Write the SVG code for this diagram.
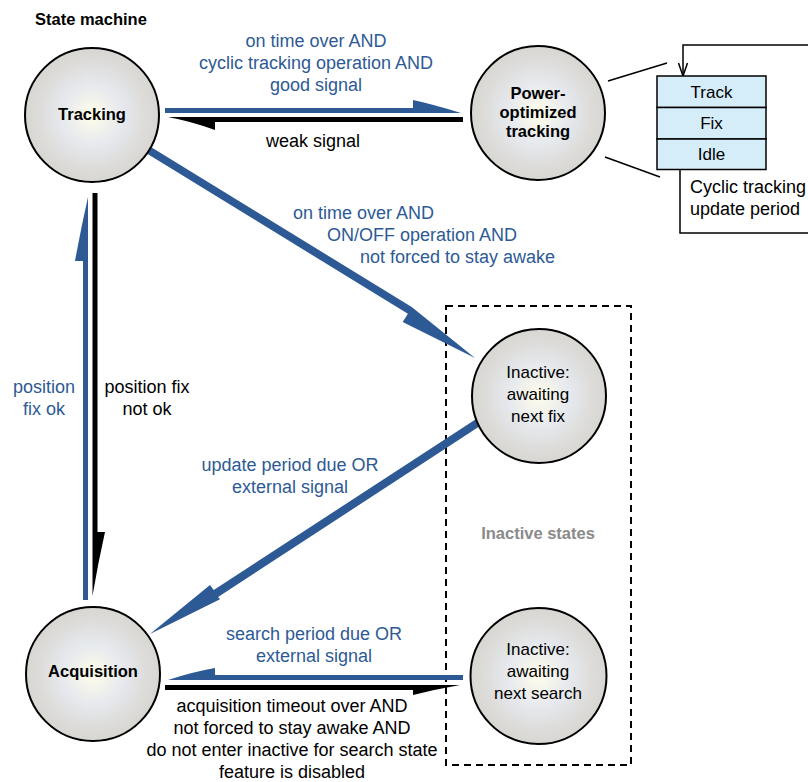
<svg xmlns="http://www.w3.org/2000/svg" width="808" height="782" viewBox="0 0 808 782">
<defs>
<radialGradient id="g" cx="50%" cy="50%" r="50%">
<stop offset="0" stop-color="#fffdea"/>
<stop offset="0.45" stop-color="#e6e9ee"/>
<stop offset="0.8" stop-color="#dddcda"/>
<stop offset="1" stop-color="#d8d6d1"/>
</radialGradient>
<style>
.n{fill:url(#g);stroke:#000;stroke-width:2}
.t{font-family:"Liberation Sans",Arial,sans-serif;font-size:18px;text-anchor:middle}
.b{font-family:"Liberation Sans",Arial,sans-serif;font-size:16.5px;font-weight:bold;text-anchor:middle}
.r{font-family:"Liberation Sans",Arial,sans-serif;font-size:17px;text-anchor:middle}
.bl{fill:#2d5a95}
.k{fill:#000}
.ln{fill:none;stroke:#000;stroke-width:1.5}
.cell{fill:#d5edf8;stroke:#000;stroke-width:1.5}
</style>
</defs>
<rect width="808" height="782" fill="#fff"/>
<text x="35" y="25" class="b" style="text-anchor:start">State machine</text>
<rect x="446" y="306" width="185" height="459" fill="none" stroke="#000" stroke-width="2" stroke-dasharray="7 5"/>
<text x="538" y="539" class="b" fill="#8a8a8a">Inactive states</text>
<g id="connectors">
<path class="bl" d="M165,108 H413 V100 Q432,104 461,113 H165 Z"/>
<path class="k" d="M463,117 H168 Q190,121 215,130 V122 H463 Z"/>
<path class="bl" d="M146,144 L411.7,307 L475,358 L402.7,322 L407.9,313.8 L146,153 Z"/>
<path class="bl" d="M480,416.5 L213.75,590 L210,585 L150,634 L220,599.3 L218.07,597 L480,426 Z"/>
<path class="bl" d="M88,600 V197 Q81,228 75,261 H83 V600 Z"/>
<path class="k" d="M92.5,193 V596 Q98,563 105,532 H97.5 V193 Z"/>
<path class="bl" d="M463,675 H215 V668 Q192,672 168,680 H463 Z"/>
<path class="k" d="M165,685 H460 Q437,689 413,695 V690 H165 Z"/>
<line class="ln" x1="608" y1="81" x2="667" y2="63"/>
<line class="ln" x1="605" y1="157" x2="660" y2="177"/>
<polyline class="ln" points="680,170 680,233 810,233"/>
<polyline class="ln" points="810,45 683,45 683,75"/>
<polyline class="ln" points="678.5,63 683,76 687.5,63"/>
<g class="t bl">
<text x="316" y="47">on time over AND</text>
<text x="316" y="69">cyclic tracking operation AND</text>
<text x="316" y="91">good signal</text>
<text x="293" y="219" style="text-anchor:start">on time over AND</text>
<text x="327" y="241" style="text-anchor:start">ON/OFF operation AND</text>
<text x="360" y="263" style="text-anchor:start">not forced to stay awake</text>
<text x="290" y="471">update period due OR</text>
<text x="290" y="493">external signal</text>
<text x="44" y="393">position</text>
<text x="44" y="415">fix ok</text>
<text x="314" y="640">search period due OR</text>
<text x="314" y="662">external signal</text>
</g>
<g class="t k">
<text x="313" y="147">weak signal</text>
<text x="147" y="393">position fix</text>
<text x="147" y="415">not ok</text>
<text x="292" y="712">acquisition timeout over AND</text>
<text x="292" y="734">not forced to stay awake AND</text>
<text x="292" y="756">do not enter inactive for search state</text>
<text x="292" y="778">feature is disabled</text>
<text x="690" y="193" style="text-anchor:start">Cyclic tracking</text>
<text x="690" y="215" style="text-anchor:start">update period</text>
</g>
</g>
<g id="cycle">
<rect class="cell" x="657" y="76" width="109" height="31.5"/>
<rect class="cell" x="657" y="107.5" width="109" height="31.5"/>
<rect class="cell" x="657" y="139" width="109" height="30.5"/>
<text x="711.5" y="98" class="r">Track</text>
<text x="711.5" y="129" class="r">Fix</text>
<text x="711.5" y="160" class="r">Idle</text>
</g>
<g id="tracking">
<circle class="n" cx="92" cy="115" r="67"/>
<text x="92" y="120" class="b">Tracking</text>
</g>
<g id="power">
<circle class="n" cx="538" cy="113" r="67"/>
<text x="538" y="99" class="b">Power-</text>
<text x="538" y="118" class="b">optimized</text>
<text x="538" y="137" class="b">tracking</text>
</g>
<g id="inactive-fix">
<circle class="n" cx="539" cy="396" r="67"/>
<text x="538" y="378" class="r">Inactive:</text>
<text x="538" y="400" class="r">awaiting</text>
<text x="538" y="422" class="r">next fix</text>
</g>
<g id="inactive-search">
<circle class="n" cx="538.5" cy="676" r="68"/>
<text x="538" y="655" class="r">Inactive:</text>
<text x="538" y="677" class="r">awaiting</text>
<text x="538" y="699" class="r">next search</text>
</g>
<g id="acquisition">
<circle class="n" cx="93" cy="674" r="67"/>
<text x="93" y="677" class="b">Acquisition</text>
</g>
</svg>
